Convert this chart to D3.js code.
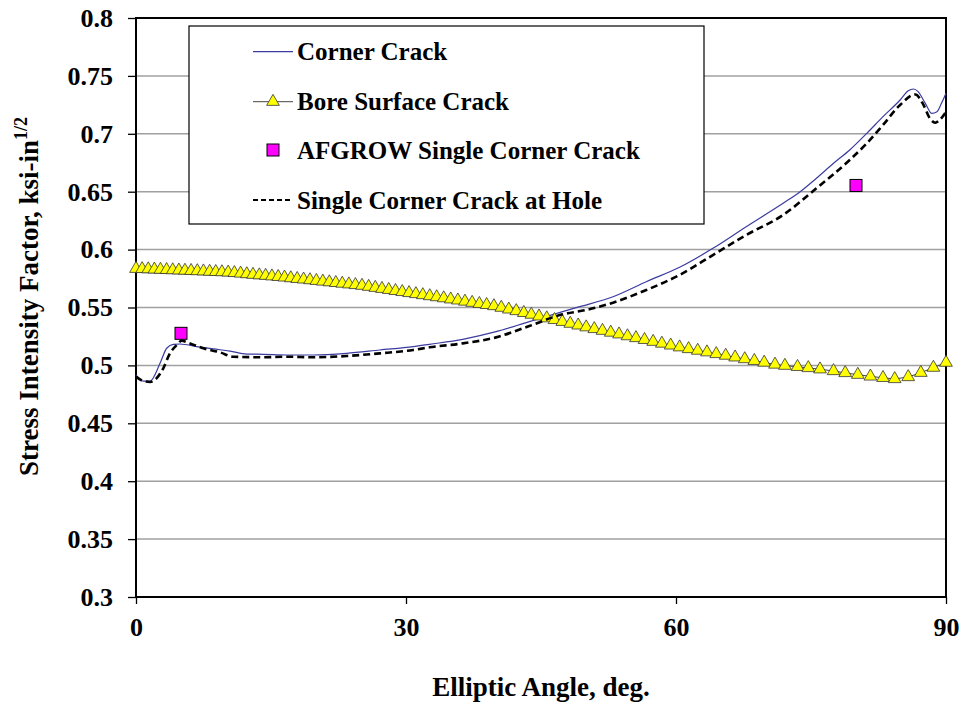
<!DOCTYPE html>
<html>
<head>
<meta charset="utf-8">
<script src="https://cdn.jsdelivr.net/npm/d3@7/dist/d3.min.js"></script>
<style>
  body { margin: 0; background: #fff; }
  text { font-family: "Liberation Serif", "Times New Roman", "DejaVu Serif", serif; font-weight: bold; fill: #000; }
</style>
</head>
<body>
<div id="chart"></div>
<script>
// Corner crack (solid blue)
var cornerX = [0, 0.81, 1.56, 2.67, 3.41, 4.15, 4.89, 6.74, 8.59, 10.44, 12.3, 14.14, 16.74, 19.7, 23.4, 27.1, 30.8, 32.6, 36.3, 40.0, 43.7, 47.4, 49.3, 53.0, 56.7, 60.4, 64.1, 67.8, 71.9, 73.8, 75.6, 77.5, 79.3, 81.2, 83.0, 84.9, 85.8, 86.4, 86.9, 87.7, 88.4, 89.0, 89.5, 90];
var cornerY = [0.4917, 0.4865, 0.4865, 0.5018, 0.5148, 0.5182, 0.5185, 0.5162, 0.5142, 0.5124, 0.5098, 0.5096, 0.509, 0.509, 0.5104, 0.5133, 0.5162, 0.5182, 0.5225, 0.5291, 0.5378, 0.5464, 0.5507, 0.5593, 0.5723, 0.5847, 0.6011, 0.6198, 0.640, 0.650, 0.6616, 0.6745, 0.686, 0.7004, 0.7148, 0.7292, 0.7372, 0.7387, 0.7364, 0.7263, 0.7177, 0.7191, 0.7263, 0.735];

// Single corner crack at hole (dashed)
var holeX = [0, 0.81, 1.56, 2.3, 3.03, 3.78, 4.52, 5.07, 6.0, 7.48, 9.33, 10.8, 14.1, 16.7, 19.7, 23.4, 27.1, 30.8, 32.6, 36.3, 40.0, 43.7, 47.4, 50.0, 53.0, 56.7, 60.4, 64.1, 67.8, 71.9, 75.6, 79.3, 81.2, 83.0, 84.9, 86.6, 87.5, 88.2, 88.8, 89.3, 90];
var holeY = [0.4903, 0.4865, 0.4857, 0.489, 0.4975, 0.5105, 0.5176, 0.5213, 0.519, 0.5148, 0.5113, 0.5075, 0.507, 0.5075, 0.507, 0.5081, 0.5104, 0.5133, 0.5156, 0.519, 0.5242, 0.534, 0.5441, 0.5478, 0.5542, 0.5651, 0.5781, 0.5953, 0.6126, 0.6299, 0.6529, 0.6774, 0.6918, 0.7076, 0.7249, 0.734, 0.7249, 0.7134, 0.7096, 0.712, 0.719];

// Bore surface crack (triangles)
var boreX = [0, 0.68, 1.36, 2.04, 2.72, 3.40, 4.08, 4.76, 5.44, 6.12, 6.81, 7.49, 8.18, 8.86, 9.55, 10.24, 10.93, 11.62, 12.31, 13.00,
  13.70, 14.40, 15.10, 15.80, 16.50, 17.20, 17.91, 18.62, 19.33, 20.04, 20.76, 21.48, 22.20, 22.92, 23.65, 24.38, 25.11, 25.85, 26.59, 27.33,
  28.08, 28.83, 29.58, 30.34, 31.10, 31.87, 32.64, 33.41, 34.19, 34.97, 35.76, 36.55, 37.35, 38.15, 38.96, 39.77, 40.59, 41.42, 42.25, 43.09,
  43.93, 44.78, 45.64, 46.50, 47.37, 48.25, 49.13, 50.02, 50.92, 51.83, 52.75, 53.67, 54.61, 55.55, 56.50, 57.46, 58.43, 59.41, 60.40, 61.40,
  62.41, 63.44, 64.47, 65.52, 66.57, 67.64, 68.7, 69.8, 71.0, 72.1, 73.5, 74.7, 76.0, 77.5, 78.8, 80.2, 81.6, 83.0, 84.3, 85.8, 87.2, 88.6, 90];
var boreY = [0.5835, 0.5833, 0.5831, 0.5829, 0.5827, 0.5825, 0.5823, 0.5821, 0.5819, 0.5817, 0.5815, 0.5813, 0.5810, 0.5808, 0.5806, 0.5803, 0.5799, 0.5794, 0.5789, 0.5784,
  0.5779, 0.5775, 0.5770, 0.5765, 0.5760, 0.5754, 0.5748, 0.5743, 0.5737, 0.5731, 0.5725, 0.5719, 0.5713, 0.5707, 0.5701, 0.5695, 0.5689, 0.5680, 0.5671, 0.5662,
  0.5653, 0.5644, 0.5635, 0.5626, 0.5617, 0.5608, 0.5599, 0.5590, 0.5581, 0.5571, 0.5562, 0.5552, 0.5542, 0.5532, 0.5523, 0.5513, 0.5499, 0.5484, 0.5470, 0.5454,
  0.5439, 0.5424, 0.5408, 0.5393, 0.5377, 0.5361, 0.5346, 0.5330, 0.5315, 0.5300, 0.5284, 0.5269, 0.5253, 0.5237, 0.5221, 0.5205, 0.5189, 0.5173, 0.5157, 0.5142,
  0.5128, 0.5114, 0.5099, 0.5085, 0.5070, 0.5055, 0.5040, 0.5025, 0.5008, 0.4998, 0.4988, 0.4978, 0.4967, 0.4952, 0.4935, 0.4920, 0.4905, 0.4893, 0.4883, 0.4900, 0.4937, 0.4981, 0.5024];

// AFGROW single corner crack (squares)
var afgrowX = [5, 80];
var afgrowY = [0.5277, 0.6554];

var xTicks = [0, 30, 60, 90];
var yTicks = [0.3, 0.35, 0.4, 0.45, 0.5, 0.55, 0.6, 0.65, 0.7, 0.75, 0.8];
var legendNames = ["Corner Crack", "Bore Surface Crack", "AFGROW Single Corner Crack", "Single Corner Crack at Hole"];

var serifFont = "'Liberation Serif', 'Times New Roman', 'DejaVu Serif', serif";
var width = 969, height = 702;
var margin = {top: 18, right: 23, bottom: 105, left: 136};
var plotW = width - margin.left - margin.right;
var plotH = height - margin.top - margin.bottom;

var svg = d3.select("#chart").append("svg")
    .attr("width", width)
    .attr("height", height);

var g = svg.append("g")
    .attr("transform", "translate(" + margin.left + "," + margin.top + ")");

var x = d3.scaleLinear().domain([0, 90]).range([0, plotW]);
var y = d3.scaleLinear().domain([0.3, 0.8]).range([plotH, 0]);

// gridlines
g.selectAll(".grid")
    .data(yTicks)
    .enter()
    .append("line")
    .attr("class", "grid")
    .attr("x1", 0)
    .attr("x2", plotW)
    .attr("y1", function(d){ return y(d); })
    .attr("y2", function(d){ return y(d); })
    .attr("stroke", "#a0a0a0")
    .attr("stroke-width", 1.5);

// axes
var yAxis = d3.axisLeft(y).tickValues(yTicks).tickSize(8).tickPadding(15)
    .tickFormat(function(d){ return d3.format("")(+d.toFixed(2)); });
var xAxis = d3.axisBottom(x).tickValues(xTicks).tickSize(7).tickPadding(14);

g.append("g").attr("class", "axis")
    .attr("font-family", serifFont)
    .call(yAxis)
    .call(function(a){ a.select(".domain").remove(); });
g.append("g").attr("class", "axis")
    .attr("font-family", serifFont)
    .attr("transform", "translate(0," + plotH + ")")
    .call(xAxis)
    .call(function(a){ a.select(".domain").remove(); });

svg.selectAll(".axis text")
    .style("font-size", "26px")
    .style("font-family", serifFont)
    .style("font-weight", "bold");
svg.selectAll(".axis line").attr("stroke", "#000").attr("stroke-width", 1.3);

// plot border
g.append("rect")
    .attr("x", 0).attr("y", 0)
    .attr("width", plotW).attr("height", plotH)
    .attr("fill", "none")
    .attr("stroke", "#000")
    .attr("stroke-width", 2);

// legend box
var legend = g.append("g").attr("transform", "translate(" + (189 - margin.left) + "," + (26 - margin.top) + ")");
legend.append("rect")
    .attr("width", 515).attr("height", 198)
    .attr("fill", "#fff")
    .attr("stroke", "#000")
    .attr("stroke-width", 1.2);

// series
var line = d3.line()
    .x(function(d){ return x(d[0]); })
    .y(function(d){ return y(d[1]); })
    .curve(d3.curveMonotoneX);

g.append("path")
    .datum(d3.zip(cornerX, cornerY))
    .attr("d", line)
    .attr("fill", "none")
    .attr("stroke", "#3b3ba0")
    .attr("stroke-width", 1.2);

var boreData = d3.zip(boreX, boreY);
g.append("path")
    .datum(boreData)
    .attr("d", d3.line().x(function(d){ return x(d[0]); }).y(function(d){ return y(d[1]); }))
    .attr("fill", "none")
    .attr("stroke", "#444")
    .attr("stroke-width", 1);

var tri = d3.symbol().type(d3.symbolTriangle).size(70);
g.selectAll(".tri")
    .data(boreData)
    .enter()
    .append("path")
    .attr("class", "tri")
    .attr("d", tri)
    .attr("transform", function(d){ return "translate(" + x(d[0]) + "," + y(d[1]) + ")"; })
    .attr("fill", "#ffff00")
    .attr("stroke", "#333")
    .attr("stroke-width", 0.8);

g.append("path")
    .datum(d3.zip(holeX, holeY))
    .attr("d", line)
    .attr("fill", "none")
    .attr("stroke", "#000")
    .attr("stroke-width", 2.6)
    .attr("stroke-dasharray", "7,4");

g.selectAll(".sq")
    .data(d3.zip(afgrowX, afgrowY))
    .enter()
    .append("rect")
    .attr("class", "sq")
    .attr("x", function(d){ return x(d[0]) - 6; })
    .attr("y", function(d){ return y(d[1]) - 6; })
    .attr("width", 12).attr("height", 12)
    .attr("fill", "#ff00ff")
    .attr("stroke", "#000")
    .attr("stroke-width", 1);

// legend items
var rowY = [25.7, 75.7, 124, 174];
legend.selectAll(".legText")
    .data(legendNames)
    .enter()
    .append("text")
    .attr("class", "legText")
    .attr("x", 108)
    .attr("y", function(d, i){ return rowY[i]; })
    .attr("dy", "0.35em")
    .style("font-size", "25px")
    .style("font-family", serifFont)
    .text(function(d){ return d; });

legend.append("line")
    .attr("x1", 64).attr("x2", 104).attr("y1", rowY[0]).attr("y2", rowY[0])
    .attr("stroke", "#3b3ba0").attr("stroke-width", 1.2);
legend.append("line")
    .attr("x1", 64).attr("x2", 104).attr("y1", rowY[1]).attr("y2", rowY[1])
    .attr("stroke", "#444").attr("stroke-width", 1);
legend.append("path")
    .attr("d", tri)
    .attr("transform", "translate(84," + rowY[1] + ")")
    .attr("fill", "#ffff00").attr("stroke", "#333").attr("stroke-width", 0.8);
legend.append("rect")
    .attr("x", 78).attr("y", rowY[2] - 6)
    .attr("width", 12).attr("height", 12)
    .attr("fill", "#ff00ff").attr("stroke", "#000").attr("stroke-width", 1);
legend.append("line")
    .attr("x1", 64).attr("x2", 104).attr("y1", rowY[3]).attr("y2", rowY[3])
    .attr("stroke", "#000").attr("stroke-width", 2.2)
    .attr("stroke-dasharray", "5,3");

// axis titles
svg.append("text")
    .attr("x", 541)
    .attr("y", 696)
    .attr("text-anchor", "middle")
    .style("font-size", "27px")
    .style("font-family", serifFont)
    .text("Elliptic Angle, deg.");

var yTitle = svg.append("text")
    .attr("transform", "translate(38,476) rotate(-90)")
    .attr("text-anchor", "start")
    .style("font-size", "27px")
    .style("font-family", serifFont);
yTitle.append("tspan").text("Stress Intensity Factor, ksi-in");
yTitle.append("tspan").attr("dy", -11).style("font-size", "18px").text("1/2");
</script>
</body>
</html>
